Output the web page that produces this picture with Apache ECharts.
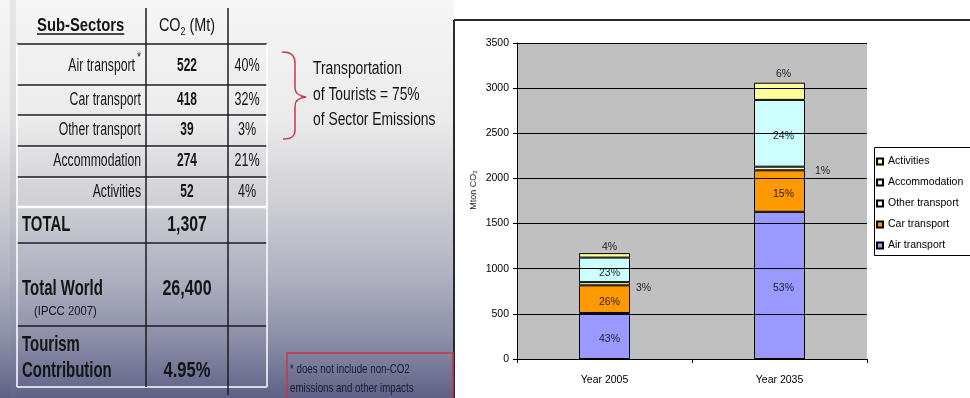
<!DOCTYPE html>
<html>
<head>
<meta charset="utf-8">
<title>Tourism CO2 emissions by sub-sector</title>
<script src="https://cdn.jsdelivr.net/npm/echarts@6/dist/echarts.min.js"></script>
<style>
  html, body { margin: 0; padding: 0; background: #ffffff; }
  #main { width: 970px; height: 398px; }
</style>
</head>
<body>
<div id="main"></div>
<script>
// ---- Table: tourism CO2 by sub-sector, 2005 ----
const subSectors = ['Air transport', 'Car transport', 'Other transport', 'Accommodation', 'Activities'];
const co2Mt = [522, 418, 39, 274, 52];
const transportSectors = ['Air transport', 'Car transport', 'Other transport'];
const totalTourism = 1307;
const totalWorld = 26400;

// ---- Chart: stacked emissions per year (Mton CO2) ----
const years = ['Year 2005', 'Year 2035'];
const airTransport = [510, 1630];
const carTransport = [306, 460];
const otherTransport = [35, 40];
const accommodation = [272, 740];
const activities = [50, 190];
const yAxisMin = 0;
const yAxisMax = 3500;
const yAxisStep = 500;

const FONT = '"Liberation Sans", Arial, Helvetica, sans-serif';

// Horizontally condensed text element anchored at (x, y)
function txt(str, x, y, o) {
  o = o || {};
  return {
    type: 'text', x: x, y: y, scaleX: o.s || 1, z: 60,
    style: {
      text: str, x: 0, y: 0,
      fill: o.color || '#141414',
      font: (o.bold ? 'bold ' : '') + (o.size || 18) + 'px ' + FONT,
      textAlign: o.align || 'left', align: o.align || 'left',
      textVerticalAlign: 'middle', verticalAlign: 'middle'
    }
  };
}
function line(x1, y1, x2, y2, color, w) {
  return { type: 'line', z: 40, shape: { x1: x1, y1: y1, x2: x2, y2: y2 },
           style: { stroke: color, lineWidth: w } };
}
function curve(x1, y1, c1x, c1y, c2x, c2y, x2, y2, color, w) {
  return { type: 'bezierCurve', z: 40,
           shape: { x1: x1, y1: y1, cpx1: c1x, cpy1: c1y, cpx2: c2x, cpy2: c2y, x2: x2, y2: y2 },
           style: { stroke: color, lineWidth: w, fill: null } };
}
const measureCtx = document.createElement('canvas').getContext('2d');
function textWidth(str, size, bold) {
  measureCtx.font = (bold ? 'bold ' : '') + size + 'px ' + FONT;
  return measureCtx.measureText(str).width;
}
const fmt = v => v.toLocaleString('en-US');

const g = [];

// left slide background
g.push({
  type: 'rect', z: 1, shape: { x: 0, y: 0, width: 454, height: 398 },
  style: {
    fill: { type: 'linear', x: 0, y: 0, x2: 0, y2: 1, colorStops: [
      { offset: 0, color: '#f6f6f6' }, { offset: 0.3, color: '#ebebec' },
      { offset: 0.5, color: '#d0d0d5' }, { offset: 0.7, color: '#aeb0bf' },
      { offset: 0.86, color: '#8a8ca6' }, { offset: 1, color: '#5d6185' }] }
  }
});
g.push({ type: 'rect', z: 2, shape: { x: 10, y: 0, width: 6, height: 398 },
         style: { fill: 'rgba(120,120,140,0.12)' } });

// right panel frame
g.push({ type: 'rect', z: 1, shape: { x: 455, y: 21, width: 520, height: 380 }, style: { fill: '#ffffff' } });
g.push(line(454, 20, 454, 398, '#2a2a2a', 2));
g.push(line(454, 20, 970, 20, '#2a2a2a', 2));

// table grid
const tL = 17, tR = 267, c1 = 146, c2 = 228;
const rowLines = [44, 85, 115, 146, 177];
rowLines.forEach((y, i) => {
  g.push(line(tL, y, tR, y, '#1c1c24', 1.5));
  if (i > 0) g.push(line(tL, y + 1.5, tR, y + 1.5, 'rgba(255,255,255,0.7)', 1));
});
g.push(line(tL, 207, tR, 207, '#ffffff', 2.5));
g.push(line(tL, 243, tR, 243, '#1c1c24', 1.5));
g.push(line(tL, 326, tR, 326, '#1c1c24', 1.5));
g.push(line(tL, 44, tL, 387, '#ffffff', 1.5));
g.push(line(tR, 44, tR, 387, '#ffffff', 1.5));
g.push(line(tL, 387, tR, 387, '#ffffff', 1.5));
g.push(line(c1, 8, c1, 387, '#1c1c24', 1.5));
g.push(line(c2, 8, c2, 395, '#1c1c24', 1.5));

// header
g.push(txt('Sub-Sectors', 37, 26, { bold: true, size: 19, s: 0.78 }));
g.push(line(37, 34, 37 + textWidth('Sub-Sectors', 19, true) * 0.78, 34, '#141414', 1.5));
(function () {
  const s = 0.8, a = 'CO', b = '2', c = ' (Mt)';
  const wa = textWidth(a, 18) * s, wb = textWidth(b, 11) * s, wc = textWidth(c, 18) * s;
  let x = 187 - (wa + wb + wc) / 2;
  g.push(txt(a, x, 26, { size: 18, s: s }));
  g.push(txt(b, x + wa, 32, { size: 11, s: s }));
  g.push(txt(c, x + wa + wb, 26, { size: 18, s: s }));
})();

// sub-sector rows
const rowY = [66, 100, 130, 161, 192];
subSectors.forEach((name, i) => {
  if (i === 0) {
    g.push(txt(name, 135, rowY[i], { size: 18, s: 0.68, align: 'right' }));
    g.push(txt('*', 137, rowY[i] - 9, { size: 13, s: 0.8 }));
  } else {
    g.push(txt(name, 141, rowY[i], { size: 18, s: 0.68, align: 'right' }));
  }
  g.push(txt(fmt(co2Mt[i]), 187, rowY[i], { bold: true, size: 19, s: 0.63, align: 'center' }));
  g.push(txt(Math.round(co2Mt[i] / totalTourism * 100) + '%', 247, rowY[i], { size: 19, s: 0.66, align: 'center' }));
});

// totals
g.push(txt('TOTAL', 22, 225, { bold: true, size: 22, s: 0.68 }));
g.push(txt(fmt(totalTourism), 187, 225, { bold: true, size: 22, s: 0.72, align: 'center' }));
g.push(txt('Total World', 22, 289, { bold: true, size: 22, s: 0.68 }));
g.push(txt('(IPCC 2007)', 34, 311, { size: 13, s: 0.87 }));
g.push(txt(fmt(totalWorld), 187, 289, { bold: true, size: 22, s: 0.73, align: 'center' }));
g.push(txt('Tourism', 22, 345, { bold: true, size: 22, s: 0.68 }));
g.push(txt('Contribution', 22, 371, { bold: true, size: 22, s: 0.68 }));
g.push(txt((totalTourism / totalWorld * 100).toFixed(2) + '%', 187, 371, { bold: true, size: 22, s: 0.75, align: 'center' }));

// transport bracket and note
const red = '#cf3347';
g.push(curve(282, 52, 292, 52, 295, 56, 295, 64, red, 1.5));
g.push(line(295, 64, 295, 88, red, 1.5));
g.push(curve(295, 88, 295, 94, 299, 96, 306, 97, red, 1.5));
g.push(curve(306, 97, 299, 98, 295, 100, 295, 106, red, 1.5));
g.push(line(295, 106, 295, 130, red, 1.5));
g.push(curve(295, 130, 295, 136, 292, 139, 283, 139, red, 1.5));
const transportShare = Math.round(
  transportSectors.reduce((acc, n) => acc + co2Mt[subSectors.indexOf(n)], 0) / totalTourism * 100);
g.push(txt('Transportation', 313, 69, { size: 18, s: 0.77 }));
g.push(txt('of Tourists = ' + transportShare + '%', 313, 95, { size: 18, s: 0.77 }));
g.push(txt('of Sector Emissions', 313, 120, { size: 18, s: 0.77 }));

g.push({ type: 'rect', z: 40, shape: { x: 287, y: 353, width: 166, height: 60 },
         style: { fill: null, stroke: red, lineWidth: 1.5 } });
g.push(txt('* does not include non-CO2', 290, 370, { size: 12.5, s: 0.78, color: '#1a1a30' }));
g.push(txt('emissions and other impacts', 290, 389, { size: 12.5, s: 0.78, color: '#1a1a30' }));

// legend frame
g.push({ type: 'rect', z: 40, shape: { x: 874.5, y: 147.5, width: 110, height: 108 },
         style: { fill: '#ffffff', stroke: '#000000', lineWidth: 1 } });

// ---- stacked bars ----
const stackTotals = years.map((_, i) =>
  airTransport[i] + carTransport[i] + otherTransport[i] + accommodation[i] + activities[i]);
const pct = p => Math.round(p.value / stackTotals[p.dataIndex] * 100) + '%';
const labelBase = { show: true, formatter: pct, color: '#1e1e1e', fontSize: 10.5, fontFamily: FONT };

function seriesOf(name, values, color, labelFor) {
  return {
    name: name, type: 'bar', stack: 'total', barWidth: 51,
    itemStyle: { color: color, borderColor: '#000000', borderWidth: 1 },
    label: labelBase,
    data: values.map((v, i) => ({ value: v, label: Object.assign({}, labelBase, labelFor(i)) })),
    z: 3
  };
}
const inside = i => ({ position: 'inside', offset: [i === 0 ? 5 : 4, 3] });

const option = {
  animation: false,
  textStyle: { fontFamily: FONT },
  graphic: { elements: g },
  grid: {
    left: 517, top: 43, width: 350, height: 316,
    show: true, backgroundColor: '#c0c0c0', borderWidth: 0, z: 2
  },
  legend: {
    orient: 'vertical', left: 876, top: 156, z: 50,
    itemWidth: 6, itemHeight: 6, itemGap: 10, padding: 0,
    icon: 'rect',
    textStyle: { fontSize: 10.5, lineHeight: 11, color: '#000', fontFamily: FONT },
    data: ['Activities', 'Accommodation', 'Other transport', 'Car transport', 'Air transport']
  },
  xAxis: {
    type: 'category', data: years, z: 4,
    axisLine: { lineStyle: { color: '#000', width: 1 } },
    axisTick: { show: true, length: 4, lineStyle: { color: '#000' } },
    axisLabel: { color: '#000', fontSize: 10.5, margin: 16, fontFamily: FONT }
  },
  yAxis: {
    type: 'value', min: yAxisMin, max: yAxisMax, interval: yAxisStep, z: 4,
    name: 'Mton CO\u2082', nameLocation: 'middle', nameGap: 39, nameRotate: 90,
    nameTextStyle: { fontSize: 9, color: '#222', fontFamily: FONT, padding: [0, 0, 0, 22] },
    axisLine: { show: true, lineStyle: { color: '#000', width: 1 } },
    axisTick: { show: true, length: 4, lineStyle: { color: '#000' } },
    axisLabel: { color: '#000', fontSize: 10.5, margin: 8, fontFamily: FONT, formatter: v => String(v) },
    splitLine: { show: true, lineStyle: { color: '#000', width: 1 } }
  },
  series: [
    seriesOf('Air transport', airTransport, '#9999ff', inside),
    seriesOf('Car transport', carTransport, '#ff9900', inside),
    seriesOf('Other transport', otherTransport, '#ffffcc',
      i => ({ position: 'right', distance: i === 0 ? 6 : 10, offset: [0, i === 0 ? 4 : 3] })),
    seriesOf('Accommodation', accommodation, '#ccffff', inside),
    seriesOf('Activities', activities, '#ffff99',
      i => ({ position: 'top', distance: i === 0 ? 0 : 3, offset: [i === 0 ? 5 : 4, 0] }))
  ]
};

const chart = echarts.init(document.getElementById('main'), null, { renderer: 'canvas' });
chart.setOption(option);
</script>
</body>
</html>
